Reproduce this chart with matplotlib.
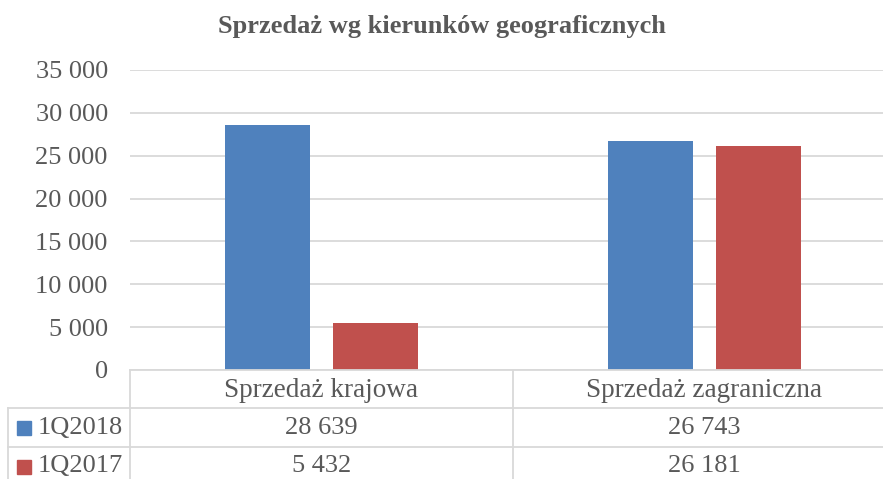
import matplotlib
matplotlib.use("Agg")
import matplotlib.pyplot as plt
from matplotlib import transforms
from matplotlib.lines import Line2D
from matplotlib.patches import Rectangle

title = "Sprzedaż wg kierunków geograficznych"
categories = ["Sprzedaż krajowa", "Sprzedaż zagraniczna"]
series_names = ["1Q2018", "1Q2017"]
values_2018 = [28639, 26743]
values_2017 = [5432, 26181]
yticks = [0, 5000, 10000, 15000, 20000, 25000, 30000, 35000]

colors = ["#4F81BD", "#C0504D"]
text_color = "#595959"
grid_color = "#D9D9D9"
font = "Liberation Serif"

W, H = 883, 479
fig = plt.figure(figsize=(W / 100, H / 100), dpi=100)
fig.patch.set_facecolor("white")

def fx(px):
    return px / W

def fy(py):
    return 1 - py / H

ax_left, ax_top, ax_bottom = 130, 70, 370
ax = fig.add_axes([fx(ax_left), fy(ax_bottom), 1 - fx(ax_left), fy(ax_top) - fy(ax_bottom)])
cat_px = 383.0
ax.set_xlim(-0.5, -0.5 + (W - ax_left) / cat_px)
ax.set_ylim(0, 35000)

x = list(range(len(categories)))
bw = 0.222
off = 0.142
series = [values_2018, values_2017]
for i, (vals, c) in enumerate(zip(series, colors)):
    pos = [xi + (-off if i == 0 else off) for xi in x]
    ax.bar(pos, vals, width=bw, color=c, zorder=3)

ax.set_yticks(yticks)
ax.set_yticklabels([f"{v:,}".replace(",", " ") for v in yticks],
                   fontfamily=font, fontsize=19, color=text_color)
ax.tick_params(axis="y", length=0, pad=16)
ax.set_xticks([])
ax.grid(axis="y", color=grid_color, linewidth=1.3, zorder=0)
for s in ax.spines.values():
    s.set_visible(False)

fig.text(0.5, fy(27), title, ha="center", va="center", fontfamily=font,
         fontsize=19, fontweight="bold", color=text_color)

# data table below the axis
bt = transforms.blended_transform_factory(ax.transData, fig.transFigure)
row_edges = [370, 408, 447, 486]
lw = 1.3
def hline(x0, x1, y):
    fig.add_artist(Line2D([fx(x0), fx(x1)], [fy(y), fy(y)], color=grid_color, lw=lw,
                          transform=fig.transFigure))
def vline(x, y0, y1):
    fig.add_artist(Line2D([fx(x), fx(x)], [fy(y0), fy(y1)], color=grid_color, lw=lw,
                          transform=fig.transFigure))

hline(ax_left, W, row_edges[0])
hline(8, W, row_edges[1])
hline(8, W, row_edges[2])
vline(8, row_edges[1], row_edges[3])
vline(ax_left, row_edges[0], row_edges[3])
for k in range(1, len(categories) + 1):
    xp = ax_left + k * cat_px
    vline(xp, row_edges[0], row_edges[3])

def ymid(r):
    return fy((row_edges[r] + row_edges[r + 1]) / 2)

for xi, cat in zip(x, categories):
    fig.text(xi, ymid(0) - 1.5 / H, cat, transform=bt, ha="center", va="center",
             fontfamily=font, fontsize=19.5, color=text_color)

for r, (name, vals, c) in enumerate(zip(series_names, series, colors), start=1):
    yc = ymid(r)
    fig.add_artist(Rectangle((fx(17), yc - 7 / H), 14 / W, 14 / H, color=c,
                             transform=fig.transFigure))
    fig.text(fx(38), yc, name, ha="left", va="center", fontfamily=font,
             fontsize=19, color=text_color)
    for xi, v in zip(x, vals):
        fig.text(xi, yc, f"{v:,}".replace(",", " "), transform=bt, ha="center",
                 va="center", fontfamily=font, fontsize=19, color=text_color)

fig.savefig("out.png", dpi=100)
